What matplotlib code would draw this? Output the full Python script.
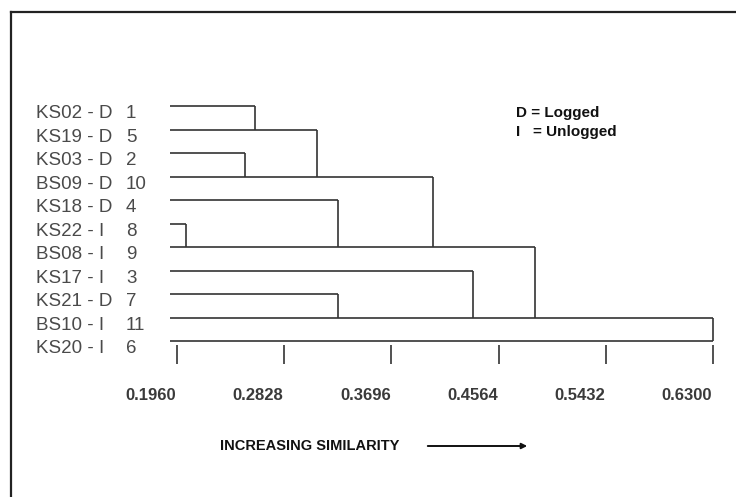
import matplotlib
matplotlib.use("Agg")
import matplotlib.pyplot as plt
from matplotlib.lines import Line2D
from matplotlib.transforms import blended_transform_factory, ScaledTranslation

# ---- data ----
sample_names = ["KS02 - D", "KS19 - D", "KS03 - D", "BS09 - D", "KS18 - D",
                "KS22 - I", "BS08 - I", "KS17 - I", "KS21 - D", "BS10 - I", "KS20 - I"]
sample_numbers = ["1", "5", "2", "10", "4", "8", "9", "3", "7", "11", "6"]
# merges: (upper representative row, lower representative row, similarity)
merge_upper = [0, 2, 1, 5, 4, 3, 8, 7, 6, 9]
merge_lower = [1, 3, 3, 6, 6, 6, 9, 9, 9, 10]
merge_sim = [0.259, 0.251, 0.309, 0.203, 0.326, 0.403, 0.326, 0.436, 0.486, 0.630]
leaf_base = 0.1903
tick_values = [0.1960, 0.2828, 0.3696, 0.4564, 0.5432, 0.6300]
tick_labels = ["0.1960", "0.2828", "0.3696", "0.4564", "0.5432", "0.6300"]

W, H = 736, 497
fig = plt.figure(figsize=(W / 100, H / 100), dpi=100)
fig.patch.set_facecolor("white")

# axes placed in pixel geometry
left_px, right_px = 177, 713
top_px, bot_px = 94, 345
ax = fig.add_axes([left_px / W, 1 - bot_px / H, (right_px - left_px) / W, (bot_px - top_px) / H])
ax.set_xlim(tick_values[0], tick_values[-1])
row_step = 23.5
y_top = 0 - (106 - top_px) / row_step
y_bot = 10 + (bot_px - 341) / row_step
ax.set_ylim(y_bot, y_top)
for s in ax.spines.values():
    s.set_visible(False)
ax.set_yticks([])

lc = "#333333"
lw = 1.2
# dendrogram
for u, l, h in zip(merge_upper, merge_lower, merge_sim):
    ax.plot([leaf_base, h], [u, u], color=lc, lw=lw, clip_on=False, solid_capstyle="butt")
    ax.plot([h, h], [u, l], color=lc, lw=lw, clip_on=False, solid_capstyle="butt")
last = len(sample_names) - 1
ax.plot([leaf_base, merge_sim[-1]], [last, last], color=lc, lw=lw, clip_on=False,
        solid_capstyle="butt")

# x axis ticks
ax.set_xticks(tick_values)
ax.set_xticklabels(tick_labels, fontfamily="Liberation Sans", fontweight="bold",
                   fontsize=12, color="#3a3a3a")
ax.tick_params(axis="x", direction="out", length=13.7, width=1.2, color=lc, pad=17)
shift = ScaledTranslation(-26 / 100, 0, fig.dpi_scale_trans)
for t in ax.get_xticklabels():
    t.set_transform(t.get_transform() + shift)

# row labels
tr = blended_transform_factory(fig.transFigure, ax.transData)
for i, (nm, num) in enumerate(zip(sample_names, sample_numbers)):
    ax.text(36 / W, i + 0.33, nm, transform=tr, ha="left", va="center",
            fontfamily="Liberation Sans", fontsize=13.5, color="#4a4a4a", clip_on=False)
    ax.text(126 / W, i + 0.33, num, transform=tr, ha="left", va="center",
            fontfamily="Liberation Sans", fontsize=13.5, color="#4a4a4a", clip_on=False)

# legend text
fig.text(516 / W, 1 - 113 / H, "D = Logged", ha="left", va="center",
         fontfamily="Liberation Sans", fontweight="bold", fontsize=11, color="#111111")
fig.text(516 / W, 1 - 132 / H, "I   = Unlogged", ha="left", va="center",
         fontfamily="Liberation Sans", fontweight="bold", fontsize=11, color="#111111")

# axis caption with arrow
fig.text(220 / W, 1 - 446 / H, "INCREASING SIMILARITY", ha="left", va="center",
         fontfamily="Liberation Sans", fontweight="bold", fontsize=10.5, color="#111111")
fig.patches.append(matplotlib.patches.FancyArrowPatch(
    (425 / W, 1 - 446 / H), (530 / W, 1 - 446 / H), transform=fig.transFigure,
    arrowstyle="-|>", mutation_scale=8, color="#111111", lw=1.4))

# frame (left and top edges)
fig.add_artist(Line2D([11 / W, 11 / W], [0, 1 - 12 / H], transform=fig.transFigure,
                      color="#222222", lw=1.6))
fig.add_artist(Line2D([11 / W, 1], [1 - 12 / H, 1 - 12 / H], transform=fig.transFigure,
                      color="#222222", lw=1.6))

fig.savefig("out.png", dpi=100, facecolor="white")
